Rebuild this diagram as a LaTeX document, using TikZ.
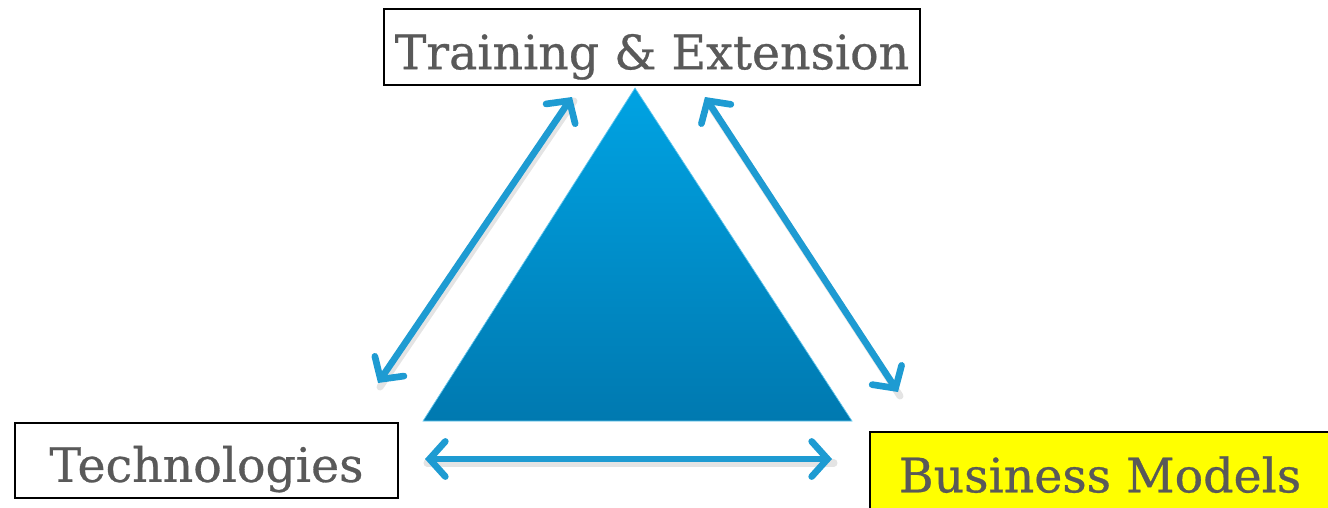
\documentclass[tikz,border=0pt]{standalone}
\usepackage{fontspec}
\setmainfont{DejaVu Serif}
\newfontfamily\boxfont[FakeBold=0.6]{DejaVu Serif}
\usepackage{xcolor}
\usepackage{tikz}
\usetikzlibrary{arrows.meta}
\definecolor{mygray}{HTML}{595959}
\definecolor{myblue}{HTML}{1E9BD2}
\definecolor{mytop}{HTML}{00A3E3}
\definecolor{mybottom}{HTML}{0079B0}
\definecolor{myyellow}{HTML}{FFFF00}
\tikzstyle{box} = [draw=black,line width=1.2pt,text=mygray,font=\boxfont\fontsize{27}{31}\selectfont,inner sep=0pt,text depth=0pt]
\tikzstyle{link} = [myblue,line width=3.8pt,line cap=round,{Straight Barb[length=9pt,width=20pt,line cap=round]}-{Straight Barb[length=9pt,width=20pt,line cap=round]}]
\tikzstyle{linkshadow} = [black!35,opacity=0.3,line width=4pt,line cap=round]

\begin{document}
\begin{tikzpicture}[x=0.02cm,y=-0.02cm]
          % basics
          \useasboundingbox (0,0) rectangle (1328,507);
          \clip (0,0) rectangle (1328,507);

          % boxes
          \node [box,text height=25.3pt,minimum width=536*0.02cm,minimum height=76*0.02cm] (train) at (652,47) {Training \& Extension};
          \node [box,text height=24.3pt,minimum width=383*0.02cm,minimum height=75*0.02cm] (tech) at (206.5,460.5) {Technologies};
          \node [box,text height=16.3pt,fill=myyellow,minimum width=460*0.02cm,minimum height=92*0.02cm] (biz) at (1100,478) {Business Models};

          % triangle
          \coordinate (top) at (635,88);
          \coordinate (left) at (423,421);
          \coordinate (right) at (852,421);
          \shade [top color=mytop,bottom color=mybottom,draw=mytop!60,thin] (top) -- (left) -- (right) -- cycle;

          % connectors
          \coordinate (T1) at (572,97);
          \coordinate (T2) at (378,383);
          \coordinate (E1) at (705,97);
          \coordinate (E2) at (898,392);
          \coordinate (B1) at (425,459);
          \coordinate (B2) at (832,459);

          \draw [linkshadow] ([shift={(2,4)}]T1) -- ([shift={(2,4)}]T2);
          \draw [linkshadow] ([shift={(2,4)}]E1) -- ([shift={(2,4)}]E2);
          \draw [linkshadow] ([shift={(2,4)}]B1) -- ([shift={(2,4)}]B2);
          \draw [link] (T1) -- (T2);
          \draw [link] (E1) -- (E2);
          \draw [link] (B1) -- (B2);
      \end{tikzpicture}
\end{document}
